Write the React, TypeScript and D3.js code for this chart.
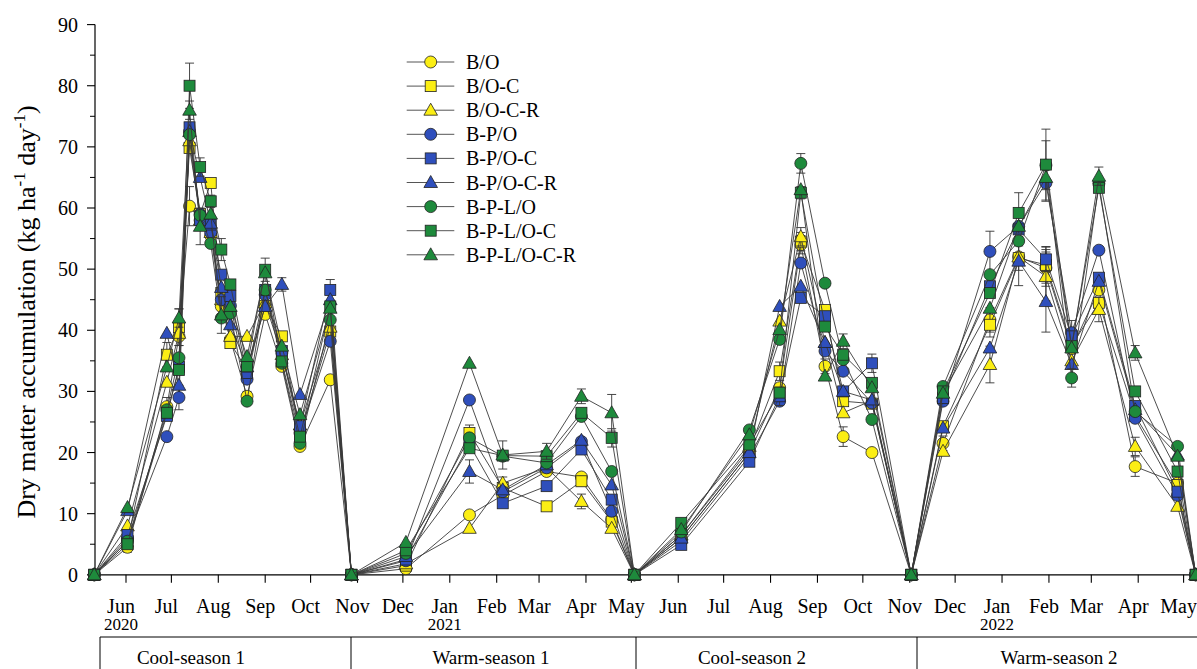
import React from "react";
import * as d3 from "d3";

// ---- data ----
const dates = [
  // Cool-season 1
  "2020-05-11", "2020-06-02", "2020-06-28", "2020-07-06", "2020-07-13", "2020-07-20", "2020-07-27",
  "2020-08-03", "2020-08-09", "2020-08-20", "2020-09-01", "2020-09-12", "2020-09-24", "2020-10-14", "2020-10-28",
  // Warm-season 1
  "2020-12-03", "2021-01-14", "2021-02-05", "2021-03-06", "2021-03-29", "2021-04-18", "2021-05-03",
  // Cool-season 2
  "2021-06-03", "2021-07-18", "2021-08-07", "2021-08-21", "2021-09-06", "2021-09-18", "2021-10-07", "2021-11-02",
  // Warm-season 2
  "2021-11-23", "2021-12-24", "2022-01-12", "2022-01-30", "2022-02-16", "2022-03-06", "2022-03-30", "2022-04-27", "2022-05-09",
];

const seriesNames = ["B/O", "B/O-C", "B/O-C-R", "B-P/O", "B-P/O-C", "B-P/O-C-R", "B-P-L/O", "B-P-L/O-C", "B-P-L/O-C-R"];

const BO = [0, 4.5, 27.5, 39, 60.3, 58, 55.5, 43.9, 38.5, 29.2, 42.6, 34.1, 21, 31.9, 0,
  1, 9.8, 13, 16.9, 16, 9, 0,
  6, 20, 30.6, 54, 34.1, 22.6, 20, 0,
  21.5, 41.7, 52, 50.2, 37, 46.6, 17.7, 15, 0];
const BOC = [0, 5.5, 36, 40.5, 69.8, 59, 64.1, 46.1, 37.9, 33.5, 44, 39, 23, 39.8, 0,
  1.5, 23.2, 14.2, 11.2, 15.3, 8.7, 0,
  6.5, 20.5, 33.3, 54.5, 43.3, 28.4, 28, 0,
  24.3, 40.9, 51.8, 50.7, 37.5, 44.5, 26, 14.7, 0];
const BOCR = [0, 8, 31.5, 39.5, 71, 58, 56, 45, 39, 39, 44.5, 36, 24.5, 40.5, 0,
  1.8, 7.6, 15, 17.5, 12, 7.6, 0,
  6.5, 21, 41.5, 55.3, 38, 26.5, 28.5, 0,
  20.2, 34.4, 52, 48.8, 35, 43.4, 21, 11.2, 0];
const BPO = [0, 6, 22.6, 29, 72.5, 59, 56, 45, 44, 32, 45.8, 36.3, 23.2, 38.2, 0,
  2.3, 28.6, 13.6, 17.5, 21.8, 10.4, 0,
  5.5, 19.4, 28.4, 51, 36.6, 33.3, 28.1, 0,
  28.4, 52.9, 57, 64.1, 39.6, 53.1, 25.6, 13, 0];
const BPOC = [0, 6.5, 26, 34, 73.2, 58, 57.3, 49.1, 45.6, 33, 46.6, 36.6, 24.3, 46.6, 0,
  2.5, 21.3, 11.7, 14.5, 20.5, 12.3, 0,
  4.9, 18.5, 29.2, 45.3, 42.3, 30, 34.6, 0,
  28.9, 47.2, 56.5, 51.6, 39, 48.6, 27.6, 13.6, 0];
const BPOCR = [0, 10.5, 39.5, 31, 72.5, 65, 57.5, 47, 40.9, 34, 43.9, 47.5, 29.5, 45, 0,
  3, 16.9, 13.9, 18, 22, 14.7, 0,
  6, 20, 43.9, 47.2, 38, 30, 28.6, 0,
  24, 37.1, 51.3, 44.7, 34.4, 48, 27, 19.6, 0];
const BPLO = [0, 5.5, 27, 35.5, 72, 58.8, 54.2, 42, 42.8, 28.4, 46.6, 34.6, 21.5, 41.7, 0,
  3.5, 22.4, 19.4, 18.3, 25.9, 16.9, 0,
  7, 23.7, 38.5, 67.3, 47.7, 35.2, 25.4, 0,
  30.8, 49.1, 54.6, 67, 32.2, 64, 26.7, 21, 0];
const BPLOC = [0, 5, 26.5, 33.5, 80, 66.7, 61.1, 53.2, 47.5, 34.1, 49.9, 34.9, 22.6, 43.9, 0,
  4, 20.7, 19.5, 19.4, 26.5, 22.4, 0,
  8.5, 21.3, 29.8, 62.5, 40.6, 36, 31.4, 0,
  30, 46.1, 59.2, 67.1, 37.4, 63.3, 30, 16.9, 0];
const BPLOCR = [0, 11, 34, 42, 76, 57, 59, 42.5, 43.9, 35.7, 49.4, 37.4, 26.2, 43.6, 0,
  5.3, 34.6, 19.6, 20.2, 29.2, 26.5, 0,
  7.4, 22.9, 40.1, 63, 32.5, 38.2, 30.6, 0,
  29.7, 43.6, 57, 65, 37.1, 65.2, 36.3, 19.4, 0];

// standard errors (0 = no visible bar)
const BO_err = [0, 0.8, 1.5, 1.5, 3.2, 0, 0, 0, 0, 0.8, 0, 0, 0, 0, 0,
  0, 0, 0, 0, 0, 0, 0,
  0, 0, 0, 1.5, 1.2, 1.6, 0, 0,
  1.2, 2, 0, 3, 0, 0, 1.6, 0, 0];
const BOC_err = [0, 0, 2, 3, 0, 0, 0, 0, 0, 0, 0, 0, 0, 0, 0,
  0, 1.3, 0, 0, 0.8, 0, 0,
  0, 0, 1.5, 1.5, 0, 0, 0, 0,
  0, 2, 2, 3, 0, 0, 0, 0, 0];
const BOCR_err = [0, 0, 0, 0, 0, 0, 0, 0, 0, 0, 0, 0, 0, 0, 0,
  0, 0, 1, 0, 1.2, 0, 0,
  0, 0, 0, 1.5, 0, 0, 0, 0,
  0, 3, 0, 4, 0, 2, 1.5, 0, 0];
const BPO_err = [0, 0, 0, 2, 0, 0, 0, 0, 0, 0, 0, 0, 0, 0, 0,
  0, 0, 0, 0, 0, 0, 0,
  0, 0, 0, 0, 0, 0, 0, 0,
  0, 3.3, 0, 3, 2, 0, 0, 0, 0];
const BPOC_err = [0, 0, 0, 0, 0, 0, 0, 0, 0, 0, 0, 0, 0, 1.7, 0,
  0, 0, 0, 0, 0, 0, 0,
  0, 0, 1.5, 0, 0, 0, 1.5, 0,
  0, 0, 0, 2, 0, 0, 0, 0, 0];
const BPOCR_err = [0, 0, 0, 0, 0, 0, 0, 0, 0, 0, 0, 1.1, 0, 0, 0,
  0, 1.9, 0, 0, 0, 0, 0,
  0, 0, 0, 0, 0, 0, 0, 0,
  0, 0, 4, 5, 0, 0, 0, 0, 0];
const BPLO_err = [0, 0, 0, 0, 0, 0, 0, 0, 0, 0, 0, 0, 0, 0, 0,
  0, 0, 0, 0, 0, 0, 0,
  0, 0, 0, 1.6, 0, 0, 0, 0,
  0, 0, 0, 4, 1.5, 0, 0, 0, 0];
const BPLOC_err = [0, 0, 0, 0, 3.7, 1.5, 1, 1.8, 0, 0, 1.9, 0, 0, 0, 0,
  0, 0, 0, 0, 0, 1.5, 0,
  0, 0, 0, 1, 0, 0, 0, 0,
  0, 0, 3.3, 5.8, 0, 0, 0, 0, 0];
const BPLOCR_err = [0, 0, 0, 1.5, 1.5, 3, 0, 3, 0, 0, 0, 0, 0, 0, 0,
  0, 0, 2.3, 1.3, 1.2, 3, 0,
  0, 0, 0, 0, 0, 1.2, 0, 0,
  0, 0, 0, 0, 0, 1.5, 1.2, 0, 0];

const yTicks = [0, 10, 20, 30, 40, 50, 60, 70, 80, 90];
const seasonLabels = ["Cool-season 1", "Warm-season 1", "Cool-season 2", "Warm-season 2"];
const yearLabels = [
  { year: "2020", month: "2020-06-01" },
  { year: "2021", month: "2021-01-01" },
  { year: "2022", month: "2022-01-01" },
];

// ---- style ----
const YELLOW = "#fbee14";
const BLUE = "#2f4fbc";
const GREEN = "#1e8a3c";
const FONT = "'Liberation Serif', 'Times New Roman', serif";

const values = [BO, BOC, BOCR, BPO, BPOC, BPOCR, BPLO, BPLOC, BPLOCR];
const errs = [BO_err, BOC_err, BOCR_err, BPO_err, BPOC_err, BPOCR_err, BPLO_err, BPLOC_err, BPLOCR_err];
const colors = [YELLOW, YELLOW, YELLOW, BLUE, BLUE, BLUE, GREEN, GREEN, GREEN];
const shapes = ["circle", "square", "triangle", "circle", "square", "triangle", "circle", "square", "triangle"];

const W = 1197;
const H = 669;
const parse = d3.utcParse("%Y-%m-%d");

const x = d3.scaleUtc()
  .domain([parse("2020-06-01")!, parse("2022-05-01")!])
  .range([126, 1183.6]);
const y = d3.scaleLinear().domain([0, 90]).range([574.8, 24.6]);
const X0 = 95;

function Marker({ shape, cx, cy, fill }: { shape: string; cx: number; cy: number; fill: string }) {
  const stroke = "#222";
  const sw = 0.8;
  if (shape === "circle") return <circle cx={cx} cy={cy} r={6} fill={fill} stroke={stroke} strokeWidth={sw} />;
  if (shape === "square") return <rect x={cx - 5.5} y={cy - 5.5} width={11} height={11} fill={fill} stroke={stroke} strokeWidth={sw} />;
  const p = d3.path();
  p.moveTo(cx, cy - 7);
  p.lineTo(cx + 6.8, cy + 5);
  p.lineTo(cx - 6.8, cy + 5);
  p.closePath();
  return <path d={p.toString()} fill={fill} stroke={stroke} strokeWidth={sw} />;
}

export default function App() {
  const dts = dates.map((d) => parse(d)!);
  const line = d3.line<number>().x((_, i) => x(dts[i])).y((v) => y(v));
  const months = d3.utcMonth.range(parse("2020-06-01")!, parse("2022-05-02")!);
  const minor = d3.range(5, 90, 10);
  const legendY = (i: number) => 62 + i * 24.1;
  const dividers = [100, 351, 636, 917];
  const seasonX = [191, 491, 752, 1059];

  return (
    <svg width={W} height={H} style={{ position: "absolute", left: 0, top: 0, background: "#fff" }} fontFamily={FONT}>
      <rect width={W} height={H} fill="#fff" />
      {/* axes */}
      <line x1={X0} x2={X0} y1={y(90)} y2={y(0)} stroke="#000" strokeWidth={1.2} />
      <line x1={X0} x2={W} y1={y(0)} y2={y(0)} stroke="#000" strokeWidth={1.2} />
      {yTicks.map((t) => (
        <g key={t}>
          <line x1={X0 - 8} x2={X0} y1={y(t)} y2={y(t)} stroke="#000" strokeWidth={1.1} />
          <text x={78} y={y(t)} textAnchor="end" dominantBaseline="central" fontSize={20}>{t}</text>
        </g>
      ))}
      {minor.map((t) => (
        <line key={"m" + t} x1={X0 - 5} x2={X0} y1={y(t)} y2={y(t)} stroke="#000" strokeWidth={1} />
      ))}
      {months.map((m, i) => (
        <g key={i}>
          <line x1={x(m)} x2={x(m)} y1={y(0)} y2={y(0) + 8} stroke="#000" strokeWidth={1.1} />
          <text x={x(m) - 5} y={613} textAnchor="middle" fontSize={20}>{d3.utcFormat("%b")(m)}</text>
        </g>
      ))}
      {yearLabels.map((yl) => (
        <text key={yl.year} x={x(parse(yl.month)!) - 5} y={630} textAnchor="middle" fontSize={17}>{yl.year}</text>
      ))}
      {/* y label */}
      <text transform={`translate(35,312) rotate(-90)`} textAnchor="middle" fontSize={26}>
        Dry matter accumulation (kg ha
        <tspan fontSize={17} dy={-10}>-1</tspan>
        <tspan dy={10}> day</tspan>
        <tspan fontSize={17} dy={-10}>-1</tspan>
        <tspan dy={10}>)</tspan>
      </text>
      {/* season box */}
      <line x1={dividers[0]} x2={W} y1={637} y2={637} stroke="#000" strokeWidth={1} />
      {dividers.map((d) => (
        <line key={d} x1={d} x2={d} y1={637} y2={H} stroke="#000" strokeWidth={1} />
      ))}
      {seasonLabels.map((s, i) => (
        <text key={s} x={seasonX[i]} y={664} textAnchor="middle" fontSize={19}>{s}</text>
      ))}
      {/* series */}
      {values.map((vals, si) => (
        <g key={si}>
          <path d={line(vals) || ""} fill="none" stroke="#3a3a3a" strokeWidth={0.9} />
          {vals.map((v, i) =>
            errs[si][i] > 0 ? (
              <g key={"e" + i} stroke="#333" strokeWidth={0.9}>
                <line x1={x(dts[i])} x2={x(dts[i])} y1={y(v - errs[si][i])} y2={y(v + errs[si][i])} />
                <line x1={x(dts[i]) - 4.5} x2={x(dts[i]) + 4.5} y1={y(v + errs[si][i])} y2={y(v + errs[si][i])} />
                <line x1={x(dts[i]) - 4.5} x2={x(dts[i]) + 4.5} y1={y(v - errs[si][i])} y2={y(v - errs[si][i])} />
              </g>
            ) : null
          )}
          {vals.map((v, i) => (
            <Marker key={i} shape={shapes[si]} cx={x(dts[i])} cy={y(v)} fill={colors[si]} />
          ))}
        </g>
      ))}
      {/* legend */}
      {seriesNames.map((n, i) => (
        <g key={n}>
          <line x1={406.7} x2={454.3} y1={legendY(i)} y2={legendY(i)} stroke="#555" strokeWidth={1} />
          <Marker shape={shapes[i]} cx={430.7} cy={legendY(i)} fill={colors[i]} />
          <text x={466} y={legendY(i)} dominantBaseline="central" fontSize={20}>{n}</text>
        </g>
      ))}
    </svg>
  );
}
